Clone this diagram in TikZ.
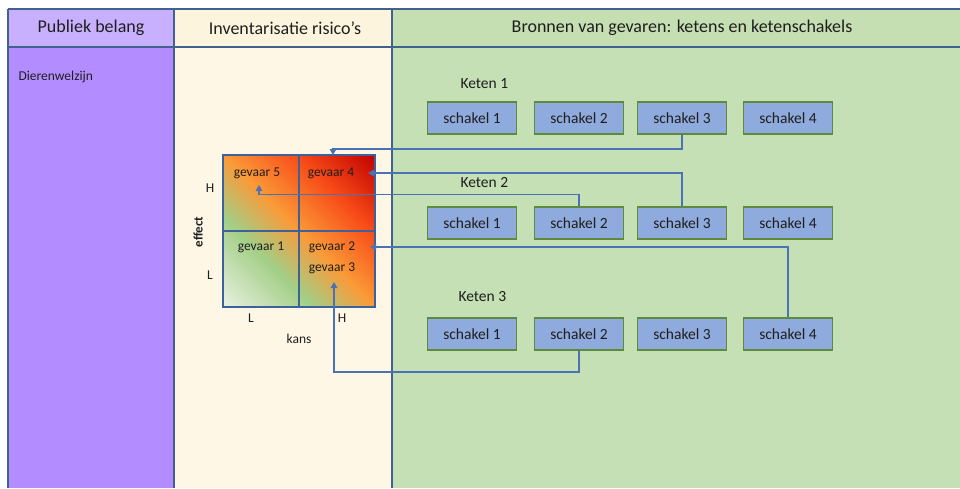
\documentclass[tikz,border=0pt]{standalone}
\usepackage{fontspec}
\setmainfont{Carlito}
\usetikzlibrary{arrows.meta}

\definecolor{hdrpurple}{HTML}{C8B0FF}
\definecolor{bodypurple}{HTML}{B38CFF}
\definecolor{hdrcream}{HTML}{FDF4DD}
\definecolor{bodycream}{HTML}{FEF7E6}
\definecolor{hdrgreen}{HTML}{C5DFB3}
\definecolor{bodygreen}{HTML}{C5E0B4}
\definecolor{gridline}{HTML}{41618F}
\definecolor{linkblue}{HTML}{4A72B4}
\definecolor{boxfill}{HTML}{8FAADC}
\definecolor{boxedge}{HTML}{5E8A3E}
\definecolor{inktext}{HTML}{1E1E1E}
\definecolor{riskpale}{HTML}{E9F1E2}
\definecolor{riskgreen}{HTML}{A3CE86}
\definecolor{riskorange}{HTML}{FA9A38}
\definecolor{riskred}{HTML}{F84C18}
\definecolor{riskdark}{HTML}{C00000}

% heat map: pale green (low) through orange to dark red (high)
\pgfdeclarehorizontalshading{riskheat}{100bp}{%
  color(0bp)=(riskpale); color(25bp)=(riskpale); color(40bp)=(riskgreen);
  color(50bp)=(riskorange); color(62bp)=(riskred); color(75bp)=(riskdark);
  color(100bp)=(riskdark)}

\tikzset{
  hdrtext/.style={text=inktext, font=\fontsize{18}{20}\selectfont},
  chainlabel/.style={text=inktext, font=\fontsize{15.5}{18}\selectfont, anchor=west},
  linkbox/.style={draw=boxedge, fill=boxfill, line width=1.2pt,
    minimum width=89pt, minimum height=32pt, inner sep=0pt,
    text=inktext, font=\fontsize{15.5}{18}\selectfont},
  hazard/.style={text=inktext, font=\fontsize{13.5}{16}\selectfont},
  axislabel/.style={text=inktext, font=\fontsize{13.5}{16}\selectfont},
  link/.style={draw=linkblue, line width=1.8pt,
    -{Triangle[length=6pt,width=6.5pt]}},
  divider/.style={draw=gridline, line width=1.8pt},
  matline/.style={draw=linkblue!85!black, line width=1.4pt}
}

\begin{document}
\begin{tikzpicture}[x=1pt, y=-1pt]
\useasboundingbox[fill=white] (0,0) rectangle (960,488);

% column backgrounds
\fill[bodypurple] (8,47) rectangle (174,488);
\fill[bodycream] (174,47) rectangle (392,488);
\fill[bodygreen] (392,47) rectangle (960,488);
\fill[hdrpurple] (8,9) rectangle (174,47);
\fill[hdrcream] (174,9) rectangle (392,47);
\fill[hdrgreen] (392,9) rectangle (960,47);

% table rules
\draw[divider] (8,9) -- (960,9);
\draw[divider] (8,47) -- (960,47);
\draw[divider] (8,9) -- (8,488);
\draw[divider] (174,9) -- (174,488);
\draw[divider] (392,9) -- (392,488);

% headers
\node[hdrtext] (hpub) at (91,28) {Publiek belang};
\node[hdrtext] (hinv) at (285,28) {Inventarisatie risico’s};
\node[hdrtext] (hbron) at (682,28) {Bronnen van gevaren: ketens en ketenschakels};

\node[text=inktext, font=\fontsize{13.5}{16}\selectfont, anchor=west] (welzijn) at (15,77) {Dierenwelzijn};

% risk matrix
\begin{scope}
  \clip (223,155) rectangle (375,307);
  \begin{scope}[transform canvas={rotate around={45:(299,231)}}]
    \fill[shading=riskheat] (191.5,123.5) rectangle (406.5,338.5);
  \end{scope}
\end{scope}
\draw[matline] (223,231) -- (375,231);
\draw[matline] (299,155) -- (299,307);
\draw[matline, line width=2pt] (223,155) rectangle (375,307);

\node[hazard] (g5) at (257,173) {gevaar 5};
\node[hazard] (g4) at (331,173) {gevaar 4};
\node[hazard] (g1) at (261,247) {gevaar 1};
\node[hazard] (g2) at (332,247) {gevaar 2};
\node[hazard] (g3) at (332,268) {gevaar 3};

\node[axislabel] (effH) at (210,188) {H};
\node[axislabel] (effL) at (210,275) {L};
\node[axislabel, font=\fontsize{13}{16}\selectfont\bfseries, rotate=90] (effect) at (198,232) {effect};
\node[axislabel] (kansL) at (251,318) {L};
\node[axislabel] (kansH) at (342,318) {H};
\node[axislabel] (kans) at (299,339) {kans};

% chains
\node[chainlabel] (keten1) at (457,84) {Keten 1};
\node[chainlabel] (keten2) at (457,183) {Keten 2};
\node[chainlabel] (keten3) at (455,297) {Keten 3};

\foreach \r/\y in {1/118, 2/223, 3/334}{
  \node[linkbox] (k\r s1) at (472,\y) {schakel 1};
  \node[linkbox] (k\r s2) at (579,\y) {schakel 2};
  \node[linkbox] (k\r s3) at (682,\y) {schakel 3};
  \node[linkbox] (k\r s4) at (788,\y) {schakel 4};
}

% arrow targets in the matrix
\coordinate (g4top) at (333,155);
\coordinate (g4right) at (368,173);
\coordinate (g5below) at (259,185);
\coordinate (g2right) at (370,247);
\coordinate (g3below) at (334,282);

% connectors from chain links to hazards
\draw[link] (k1s3.south) -- ++(0,14) -| (g4top);
\draw[link] (k2s3.north) |- (g4right);
\draw[link] (k2s2.north) -- ++(0,-12) -| (g5below);
\draw[link] (k3s4.north) |- (g2right);
\draw[link] (k3s2.south) -- ++(0,21) -| (g3below);
\end{tikzpicture}
\end{document}
